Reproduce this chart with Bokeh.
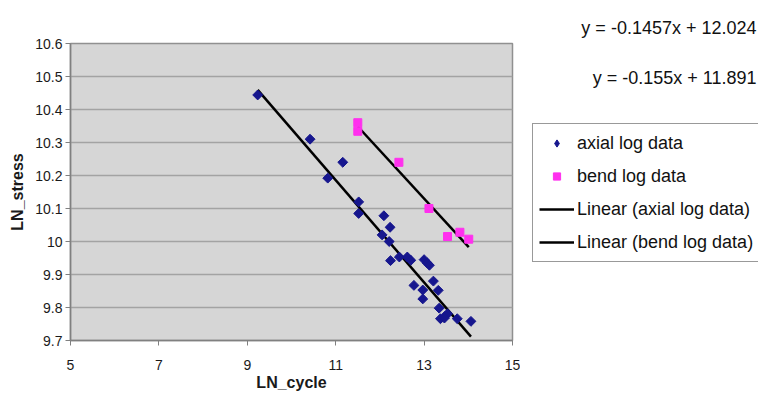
from bokeh.plotting import figure
from bokeh.models import Legend, LegendItem, Label, FixedTicker, Range1d, Title
from bokeh.layouts import row
from bokeh.embed import file_html
from bokeh.resources import INLINE
import numpy as np

# ---- data ----
axial_x = [9.235, 10.42, 10.82, 11.16, 11.52, 11.52, 12.09, 12.23, 12.05, 12.21,
           12.24, 12.44, 12.62, 12.70, 13.00, 13.07, 13.12, 12.77, 12.97, 12.97,
           13.21, 13.32, 13.34, 13.37, 13.47, 13.53, 13.46, 13.75, 14.06]
axial_y = [10.444, 10.310, 10.192, 10.240, 10.120, 10.085, 10.078, 10.043, 10.020, 10.000,
           9.942, 9.953, 9.953, 9.943, 9.945, 9.935, 9.928, 9.867, 9.853, 9.826,
           9.880, 9.852, 9.798, 9.766, 9.773, 9.781, 9.768, 9.766, 9.758]
bend_x = [11.50, 11.50, 12.43, 13.11, 13.53, 13.81, 14.01]
bend_y = [10.360, 10.334, 10.240, 10.100, 10.015, 10.028, 10.007]

axial_slope, axial_intercept = -0.155, 11.891
bend_slope, bend_intercept = -0.1457, 12.024
eq_bend = "y = -0.1457x + 12.024"
eq_axial = "y = -0.155x + 11.891"

x_ticks = [5, 7, 9, 11, 13, 15]
y_ticks = [9.7, 9.8, 9.9, 10.0, 10.1, 10.2, 10.3, 10.4, 10.5, 10.6]
y_tick_labels = ["9.7", "9.8", "9.9", "10", "10.1", "10.2", "10.3", "10.4", "10.5", "10.6"]

legend_labels = ["axial log data", "bend log data",
                 "Linear (axial log data)", "Linear (bend log data)"]

FONT = "Liberation Sans"
AXIAL_COLOR = "#16168e"
BEND_COLOR = "#ff30ee"

H = 393
TOP, BOTTOM = 43, 53
p = figure(width=520, height=H, output_backend="svg", toolbar_location=None,
           x_range=Range1d(5, 15), y_range=Range1d(9.7, 10.6),
           min_border_left=70, min_border_right=8,
           min_border_top=TOP, min_border_bottom=BOTTOM)

p.background_fill_color = "#d6d6d6"
p.border_fill_color = "white"
p.outline_line_color = "#909090"
p.outline_line_width = 1.5

p.xgrid.visible = False
p.ygrid.grid_line_color = "#a3a3a3"
p.ygrid.grid_line_width = 1.5

p.xaxis.ticker = FixedTicker(ticks=x_ticks)
p.yaxis.ticker = FixedTicker(ticks=y_ticks)
p.yaxis.major_label_overrides = {t: l for t, l in zip(y_ticks, y_tick_labels)}

for ax in (p.xaxis, p.yaxis):
    ax.axis_line_color = "#808080"
    ax.axis_line_width = 1.5
    ax.major_tick_line_color = "#808080"
    ax.major_tick_out = 5
    ax.major_tick_in = 0
    ax.minor_tick_line_color = None
    ax.major_label_text_font = FONT
    ax.major_label_text_font_size = "14px"
    ax.major_label_text_color = "#1a1a1a"
    ax.axis_label_text_font = FONT
    ax.axis_label_text_font_style = "bold"
    ax.axis_label_text_font_size = "16px"
    ax.axis_label_text_color = "#1a1a1a"

p.xaxis.axis_label = "LN_cycle"
p.yaxis.axis_label = "LN_stress"
p.xaxis.major_label_standoff = 14
p.xaxis.axis_label_standoff = 1
p.yaxis.major_label_standoff = 3
p.yaxis.axis_label_standoff = 6

ax_line_x = np.array([min(axial_x), max(axial_x)])
bd_line_x = np.array([min(bend_x), max(bend_x)])
p.line(ax_line_x, axial_slope * ax_line_x + axial_intercept,
       line_color="black", line_width=2.5)
p.line(bd_line_x, bend_slope * bd_line_x + bend_intercept,
       line_color="black", line_width=2.5)

p.scatter(axial_x, axial_y, marker="square", angle=np.pi / 4, size=7,
          fill_color=AXIAL_COLOR, line_color=AXIAL_COLOR)
p.scatter(bend_x, bend_y, marker="square", size=8,
          fill_color=BEND_COLOR, line_color=BEND_COLOR)

# ---- right-hand panel: legend and trendline equations ----
W2 = 238
q = figure(width=W2, height=H, output_backend="svg", toolbar_location=None,
           x_range=Range1d(0, W2), y_range=Range1d(BOTTOM, H - TOP),
           min_border=0, x_axis_type=None, y_axis_type=None)
q.outline_line_color = None
q.xgrid.visible = False
q.ygrid.visible = False
q.background_fill_color = "white"
q.border_fill_color = "white"

q.title = Title(text=eq_bend, align="right", offset=2, vertical_align="middle",
                text_font=FONT, text_font_size="18px", text_font_style="normal",
                text_color="#111111")

nan = [np.nan]
k_axial = q.scatter(nan, nan, marker="diamond", size=7,
                    fill_color=AXIAL_COLOR, line_color=AXIAL_COLOR)
k_bend = q.scatter(nan, nan, marker="square", size=7,
                   fill_color=BEND_COLOR, line_color=BEND_COLOR)
k_axial_line = q.line(nan, nan, line_color="black", line_width=2.5)
k_bend_line = q.line(nan, nan, line_color="black", line_width=2.5)

legend = Legend(items=[
    LegendItem(label=legend_labels[0], renderers=[k_axial]),
    LegendItem(label=legend_labels[1], renderers=[k_bend]),
    LegendItem(label=legend_labels[2], renderers=[k_axial_line]),
    LegendItem(label=legend_labels[3], renderers=[k_bend_line]),
], location=(12, 78))
legend.label_text_font = FONT
legend.label_text_font_size = "18px"
legend.label_text_color = "#111111"
legend.border_line_color = "#333333"
legend.border_line_width = 1
legend.background_fill_color = "white"
legend.background_fill_alpha = 1
legend.glyph_width = 35
legend.glyph_height = 18
legend.label_height = 26
legend.label_standoff = 3
legend.spacing = 7
legend.padding = 6
legend.margin = 0
q.add_layout(legend, "center")

q.add_layout(Label(x=W2 - 2, y=H - 77, text=eq_axial,
                   text_align="right", text_baseline="middle",
                   text_font=FONT, text_font_size="18px", text_color="#111111"))

layout = row(p, q)
open("out.html", "w").write(file_html(layout, INLINE))
